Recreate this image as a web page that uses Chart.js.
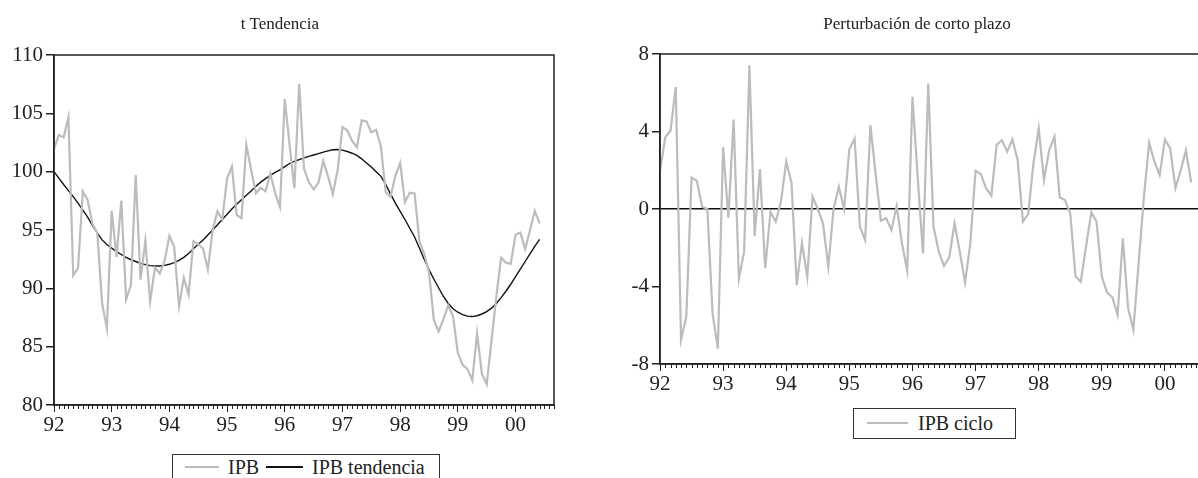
<!DOCTYPE html>
<html>
<head>
<meta charset="utf-8">
<script src="https://cdn.jsdelivr.net/npm/chart.js@4.4.1/dist/chart.umd.min.js"></script>
<style>
body{margin:0;width:1198px;height:478px;overflow:hidden;background:#fff;position:relative;font-family:"Liberation Serif","Times New Roman",serif;color:#222}
canvas{position:absolute;top:0}
.title{position:absolute;top:14px;font-size:17px;white-space:nowrap;transform:translateX(-50%)}
.box{position:absolute;border:1.5px solid #333;box-sizing:border-box;background:#fff}
.sample{position:absolute;height:2px}
.lab{position:absolute;font-size:20px;white-space:nowrap;line-height:20px}
</style>
</head>
<body>
<canvas id="left" width="600" height="478" style="left:0"></canvas>
<canvas id="right" width="620" height="400" style="left:600px"></canvas>

<div class="title" style="left:280px">t Tendencia</div>
<div class="title" style="left:917px">Perturbación de corto plazo</div>

<div class="box" style="left:172px;top:454px;width:268px;height:40px"></div>
<div class="sample" style="left:185px;top:466px;width:34px;background:#bcbcc0"></div>
<div class="lab" style="left:228px;top:457px">IPB</div>
<div class="sample" style="left:266px;top:466px;width:37px;height:1.5px;background:#111"></div>
<div class="lab" style="left:312px;top:457px">IPB tendencia</div>

<div class="box" style="left:853px;top:408px;width:163px;height:31px"></div>
<div class="sample" style="left:867px;top:422px;width:41px;background:#bcbcc0"></div>
<div class="lab" style="left:918px;top:413px">IPB ciclo</div>

<script>
// monthly data 1992M1 - 2000M6
const yearLabels = ['92', '93', '94', '95', '96', '97', '98', '99', '00'];

const ipb = [
  101.92, 103.15, 102.94, 104.68, 91.11, 91.75, 98.32, 97.56, 95.52, 94.75, 88.75, 86.55,
  96.63, 92.7, 97.52, 89.05, 90.25, 99.72, 90.75, 94.09, 88.89, 91.77, 91.27, 92.35,
  94.5, 93.56, 88.47, 90.91, 89.46, 94.04, 93.78, 93.4, 91.6, 95.0, 96.6, 95.9,
  99.43, 100.44, 96.29, 96.0, 102.31, 100.15, 98.15, 98.62, 98.32, 99.83, 98.16, 96.97,
  106.22, 102.3, 98.59, 107.52, 100.27, 99.11, 98.49, 99.05, 100.93, 99.58, 98.08, 100.13,
  103.83, 103.53, 102.65, 102.09, 104.4, 104.31, 103.36, 103.59, 102.13, 98.25, 97.84, 99.65,
  100.76, 97.4, 98.19, 98.13, 94.05, 92.96, 91.38, 87.31, 86.3, 87.36, 88.53, 87.6,
  84.46, 83.44, 83.07, 82.12, 86.14, 82.68, 81.76, 85.5, 89.3, 92.62, 92.2, 92.1,
  94.59, 94.78, 93.37, 94.95, 96.64, 95.57
];

const tendencia = [
  100.0, 99.45, 98.9, 98.38, 97.86, 97.3, 96.7, 96.1, 95.4, 94.75, 94.15, 93.75,
  93.45, 93.15, 92.9, 92.65, 92.45, 92.3, 92.15, 92.03, 91.95, 91.92, 91.92, 91.97,
  92.06, 92.2, 92.4, 92.65, 92.98, 93.4, 93.78, 94.15, 94.57, 95.0, 95.45, 95.9,
  96.35, 96.8, 97.2, 97.6, 97.98, 98.35, 98.75, 99.1, 99.4, 99.68, 99.93, 100.15,
  100.43, 100.7, 100.88, 101.04, 101.18, 101.31, 101.43, 101.55, 101.67, 101.78, 101.88, 101.9,
  101.85, 101.73, 101.58, 101.4, 101.1, 100.75, 100.4, 100.0, 99.6, 98.9, 98.1, 97.3,
  96.6, 95.9, 95.15, 94.4, 93.45, 92.5, 91.6, 90.8, 90.05, 89.3, 88.7, 88.25,
  87.95, 87.75, 87.62, 87.58, 87.65, 87.8, 88.0, 88.3, 88.7, 89.2, 89.75, 90.35,
  91.0, 91.65, 92.3, 92.95, 93.6, 94.2
];

const ciclo = [
  1.92, 3.7, 4.04, 6.3, -6.75, -5.55, 1.62, 1.46, 0.12, 0.0, -5.4, -7.2,
  3.18, -0.45, 4.62, -3.6, -2.2, 7.42, -1.4, 2.06, -3.06, -0.15, -0.65, 0.38,
  2.44, 1.36, -3.93, -1.74, -3.52, 0.64, 0.0, -0.75, -2.97, 0.0, 1.15, 0.0,
  3.08, 3.64, -0.91, -1.6, 4.33, 1.8, -0.6, -0.48, -1.08, 0.15, -1.77, -3.18,
  5.79, 1.6, -2.29, 6.48, -0.91, -2.2, -2.94, -2.5, -0.74, -2.2, -3.8, -1.77,
  1.98, 1.8, 1.07, 0.69, 3.3, 3.56, 2.96, 3.59, 2.53, -0.65, -0.26, 2.35,
  4.16, 1.5, 3.04, 3.73, 0.6, 0.46, -0.22, -3.49, -3.75, -1.94, -0.17, -0.65,
  -3.49, -4.31, -4.55, -5.46, -1.51, -5.12, -6.24, -2.8, 0.6, 3.42, 2.45, 1.75,
  3.59, 3.13, 1.07, 2.0, 3.04, 1.37
];

const leftTicks = [80, 85, 90, 95, 100, 105, 110];
const rightTicks = [-8, -4, 0, 4, 8];

const serif = 'Liberation Serif';
const ink = '#222';

function pts(arr) {
  return arr.map((v, i) => ({x: i, y: v}));
}

// small month ticks under the axis + frame round the plot
const monthTicks = {
  id: 'monthTicks',
  afterDraw(chart) {
    const ctx = chart.ctx, xs = chart.scales.x, a = chart.chartArea;
    ctx.save();
    ctx.strokeStyle = ink;
    ctx.lineWidth = 1;
    for (let m = 0; m <= xs.max; m++) {
      if (m % 12 == 0) continue;
      const px = Math.round(xs.getPixelForValue(m)) + 0.5;
      ctx.beginPath();
      ctx.moveTo(px, a.bottom);
      ctx.lineTo(px, a.bottom + 4);
      ctx.stroke();
    }
    ctx.lineWidth = 1.5;
    ctx.strokeRect(a.left, a.top, a.right - a.left, a.bottom - a.top);
    ctx.restore();
  }
};

function xAxis(h) {
  return {
    type: 'linear', min: 0, max: 104,
    afterBuildTicks: s => { s.ticks = yearLabels.map((l, k) => ({value: k * 12})); },
    afterFit: s => { s.height = h; },
    grid: {drawOnChartArea: false, tickLength: 7, tickColor: ink, lineWidth: 1},
    border: {color: ink, width: 1.5},
    ticks: {
      callback: v => yearLabels[v / 12],
      font: {family: serif, size: 21}, color: ink, padding: 1,
      maxRotation: 0, autoSkip: false
    }
  };
}

function yAxis(w, ticks, zero) {
  return {
    min: ticks[0], max: ticks[ticks.length - 1],
    afterBuildTicks: s => { s.ticks = ticks.map(v => ({value: v})); },
    afterFit: s => { s.width = w; },
    grid: {
      drawOnChartArea: zero, tickLength: 8, tickColor: ink, lineWidth: 1.5,
      color: c => (c.tick && c.tick.value === 0) ? '#111' : 'rgba(0,0,0,0)'
    },
    border: {color: ink, width: 1.5},
    ticks: {font: {family: serif, size: 21}, color: ink, padding: 3}
  };
}

new Chart(document.getElementById('left'), {
  type: 'line',
  data: {
    datasets: [{
      label: 'IPB',
      data: pts(ipb),
      borderColor: '#bcbcc0',
      borderWidth: 2.2,
      pointRadius: 0
    }, {
      label: 'IPB tendencia',
      data: pts(tendencia),
      borderColor: '#111',
      borderWidth: 1.4,
      pointRadius: 0
    }]
  },
  options: {
    responsive: false, animation: false, events: [],
    layout: {padding: {top: 55, right: 46, bottom: 0, left: 0}},
    plugins: {legend: {display: false}, title: {display: false}, tooltip: {enabled: false}},
    scales: {x: xAxis(73), y: yAxis(54, leftTicks, false)}
  },
  plugins: [monthTicks]
});

new Chart(document.getElementById('right'), {
  type: 'line',
  data: {
    datasets: [{
      label: 'IPB ciclo',
      data: pts(ciclo),
      borderColor: '#bcbcc0',
      borderWidth: 2.2,
      pointRadius: 0
    }]
  },
  options: {
    responsive: false, animation: false, events: [],
    layout: {padding: {top: 54, right: 13, bottom: 0, left: 0}},
    plugins: {legend: {display: false}, title: {display: false}, tooltip: {enabled: false}},
    scales: {x: xAxis(36), y: yAxis(60, rightTicks, true)}
  },
  plugins: [monthTicks]
});
</script>
</body>
</html>
